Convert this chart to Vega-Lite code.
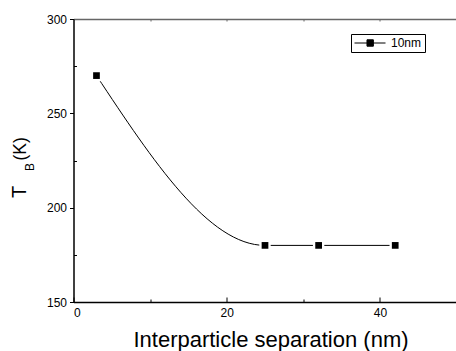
{
  "$schema": "https://vega.github.io/schema/vega-lite/v6.json",
  "width": 383,
  "height": 283,
  "autosize": {"type": "none"},
  "padding": {"left": 73.5, "top": 19, "right": 0, "bottom": 49},
  "background": "white",
  "config": {
    "view": {"stroke": null},
    "font": "Liberation Sans",
    "axis": {
      "labelFont": "Liberation Sans",
      "titleFont": "Liberation Sans",
      "titleFontWeight": "normal",
      "labelColor": "black",
      "titleColor": "black",
      "labelFontSize": 12,
      "grid": false,
      "domainColor": "black",
      "tickColor": "black",
      "domainWidth": 1.5,
      "tickWidth": 1
    }
  },
  "data": {
    "values": [
      {"sep": 3, "tb": 270, "series": "10nm"},
      {"sep": 25, "tb": 180, "series": "10nm"},
      {"sep": 32, "tb": 180, "series": "10nm"},
      {"sep": 42, "tb": 180, "series": "10nm"}
    ]
  },
  "layer": [
    {
      "mark": {"type": "line", "interpolate": "monotone", "strokeWidth": 1},
      "encoding": {
        "x": {
          "field": "sep", "type": "quantitative",
          "scale": {"domain": [0, 50], "nice": false, "zero": false},
          "axis": {
            "orient": "bottom", "values": [0, 20, 40], "tickSize": -5, "labelPadding": 10,
            "title": "Interparticle separation (nm)", "titleFontSize": 22,
            "titleX": 197, "titleY": 44, "titleAlign": "center", "titleBaseline": "alphabetic"
          }
        },
        "y": {
          "field": "tb", "type": "quantitative",
          "scale": {"domain": [150, 300], "nice": false, "zero": false},
          "axis": {
            "orient": "left", "values": [150, 200, 250, 300], "tickSize": 4, "labelPadding": 3,
            "title": "T", "titleFontSize": 20, "titleAngle": 270,
            "titleX": -48.3, "titleY": 178.5, "titleAlign": "left", "titleBaseline": "alphabetic"
          }
        },
        "color": {
          "field": "series", "type": "nominal",
          "scale": {"range": ["black"]},
          "legend": {
            "title": null, "orient": "none", "legendX": 277.5, "legendY": 15,
            "strokeColor": "black", "padding": 3,
            "symbolType": "M-1,0H4.64M1.27,-0.58H2.43V0.58H1.27Z",
            "symbolSize": 121, "symbolStrokeWidth": 1,
            "symbolFillColor": "black", "symbolStrokeColor": "black",
            "labelFontSize": 12, "labelOffset": 25, "labelFont": "Liberation Sans", "labelColor": "black",
            "encode": {"symbols": {"update": {"fill": {"value": "black"}, "stroke": {"value": "black"}, "opacity": {"value": 1}}}}
          }
        }
      }
    },
    {
      "mark": {"type": "point", "shape": "square", "filled": true, "color": "white", "opacity": 1, "size": 130},
      "encoding": {
        "x": {
          "field": "sep", "type": "quantitative",
          "axis": {"orient": "bottom", "values": [10, 30], "tickSize": -3, "labels": false, "domain": false, "title": null}
        },
        "y": {
          "field": "tb", "type": "quantitative",
          "axis": {
            "orient": "left", "values": [175, 225, 275], "tickSize": -3, "labels": false, "domain": false,
            "title": "B", "titleFontSize": 12, "titleAngle": 270,
            "titleX": -40.2, "titleY": 151.5, "titleAlign": "left", "titleBaseline": "alphabetic"
          }
        }
      }
    },
    {
      "mark": {"type": "point", "shape": "square", "filled": true, "color": "black", "opacity": 1, "size": 45},
      "encoding": {
        "x": {
          "field": "sep", "type": "quantitative",
          "axis": {"orient": "top", "values": [10, 20, 30, 40], "tickSize": -2, "labels": false,
                   "domainColor": "#666666", "tickColor": "#666666", "domainWidth": 1.3, "title": null}
        },
        "y": {
          "field": "tb", "type": "quantitative",
          "axis": {
            "orient": "left", "ticks": false, "labels": false, "domain": false,
            "title": "(K)", "titleFontSize": 17.5, "titleAngle": 270,
            "titleX": -47.8, "titleY": 141, "titleAlign": "left", "titleBaseline": "alphabetic"
          }
        }
      }
    }
  ],
  "resolve": {"axis": {"x": "independent", "y": "independent"}}
}
